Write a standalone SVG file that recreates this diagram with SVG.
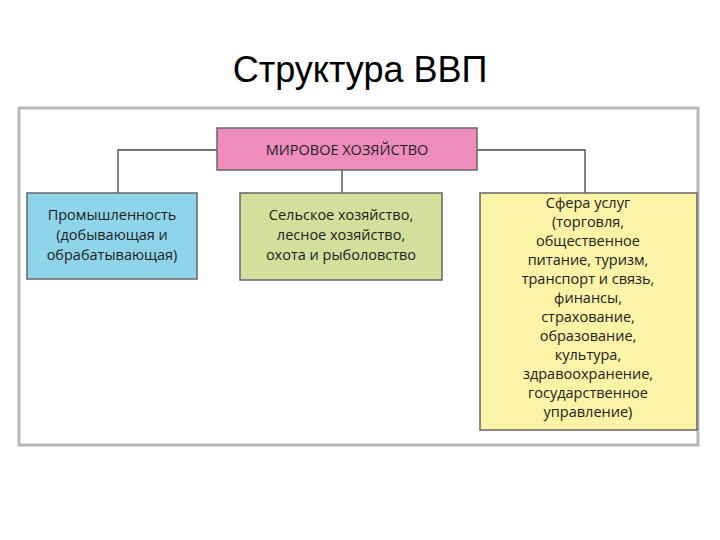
<svg xmlns="http://www.w3.org/2000/svg" width="720" height="540" viewBox="0 0 720 540">
<style>
text{font-family:"Open Sans","Noto Sans","Liberation Sans",sans-serif;fill:#222;text-anchor:middle}
.n{stroke:#666;stroke-width:1.5}
.t{font-size:14.5px}
.c{fill:none;stroke:#444;stroke-width:1.3}
</style>
<rect width="720" height="540" fill="#fff"/>
<text x="360" y="82" style="font-family:'Liberation Sans','Noto Sans',sans-serif;font-size:36px;fill:#000">Структура ВВП</text>
<rect x="19" y="108" width="679" height="337" fill="#fff" stroke="#b8b8b8" stroke-width="3"/>
<g id="connectors">
<path class="c" d="M217 150H118V193"/>
<path class="c" d="M342 170V193"/>
<path class="c" d="M477 150H585V193"/>
</g>
<g id="top"><rect class="n" x="217" y="128" width="260" height="42" fill="#ee8dbb"/><text class="t" x="347" y="155">МИРОВОЕ ХОЗЯЙСТВО</text></g>
<g id="ind"><rect class="n" x="27" y="193" width="170" height="86" fill="#8fd5ea"/>
<text class="t" x="112" y="220">Промышленность</text><text class="t" x="112" y="240">(добывающая и</text><text class="t" x="112" y="260">обрабатывающая)</text></g>
<g id="agr"><rect class="n" x="240" y="193" width="202" height="87" fill="#d3e09c"/>
<text class="t" x="341" y="220">Сельское хозяйство,</text><text class="t" x="341" y="240">лесное хозяйство,</text><text class="t" x="341" y="260">охота и рыболовство</text></g>
<g id="srv"><rect class="n" x="480" y="193" width="217" height="237" fill="#fbf3a6"/>
<g class="t">
<text x="588" y="208">Сфера услуг</text>
<text x="588" y="227">(торговля,</text>
<text x="588" y="246">общественное</text>
<text x="588" y="265">питание, туризм,</text>
<text x="588" y="284">транспорт и связь,</text>
<text x="588" y="303">финансы,</text>
<text x="588" y="322">страхование,</text>
<text x="588" y="341">образование,</text>
<text x="588" y="360">культура,</text>
<text x="588" y="379">здравоохранение,</text>
<text x="588" y="398">государственное</text>
<text x="588" y="417">управление)</text>
</g></g>
</svg>
